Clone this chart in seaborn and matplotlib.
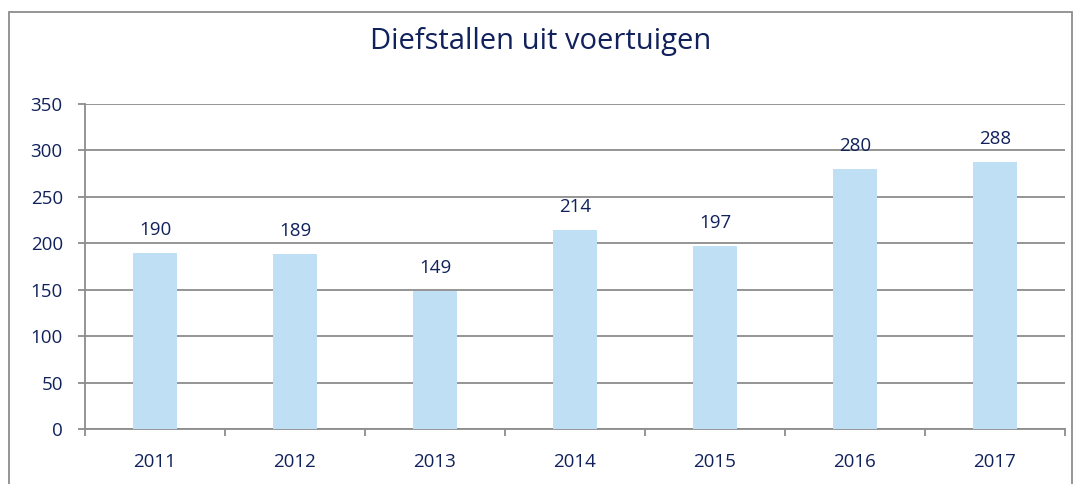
import seaborn as sns
import numpy as np
import pandas as pd
import matplotlib.pyplot as plt
from matplotlib.patches import Rectangle

# data
years = ['2011', '2012', '2013', '2014', '2015', '2016', '2017']
thefts = [190, 189, 149, 214, 197, 280, 288]

navy = '#10215C'
grey = '#8C8C8C'

sns.set_style('white')
plt.rcParams['font.family'] = ['Open Sans', 'DejaVu Sans']

df = pd.DataFrame({'jaar': years, 'aantal': thefts})

fig = plt.figure(figsize=(10.82, 4.84), dpi=100)
ax = fig.add_axes([85 / 1082, 55 / 484, 980 / 1082, 325 / 484])

sns.barplot(data=df, x='jaar', y='aantal', color='#BFDFF5', width=0.31,
            saturation=1, linewidth=0, ax=ax, zorder=3)

for c in ax.containers:
    ax.bar_label(c, color=navy, fontsize=13.5, padding=10)

ax.set_ylim(0, 350)
ax.set_xlim(-0.5, 6.5)
ax.set_yticks(np.arange(0, 351, 50))
ax.yaxis.grid(True, color=grey, lw=1.3)
ax.set_axisbelow(True)
ax.set_xlabel('')
ax.set_ylabel('')

ax.tick_params(axis='x', which='major', length=0, labelsize=13.5, labelcolor=navy, pad=17)
ax.set_xticks(np.arange(-0.5, 7, 1), minor=True)
ax.tick_params(axis='x', which='minor', length=5, width=1.3, color=grey, direction='out', bottom=True)
ax.tick_params(axis='y', length=5, width=1.3, color=grey, direction='out', left=True,
               labelsize=13.5, labelcolor=navy, pad=11)

for s in ['top', 'right']:
    ax.spines[s].set_visible(False)
for s in ['left', 'bottom']:
    ax.spines[s].set_color(grey)
    ax.spines[s].set_linewidth(1.3)

fig.text(0.5, 1 - 42 / 484, 'Diefstallen uit voertuigen', ha='center', va='center',
         fontsize=21, color=navy)

fig.patches.append(Rectangle((9 / 1082, -0.05), 1063 / 1082, 1.05 - 12 / 484,
                             transform=fig.transFigure, fill=False, ec=grey, lw=1.3))

fig.savefig('out.png', dpi=100)
